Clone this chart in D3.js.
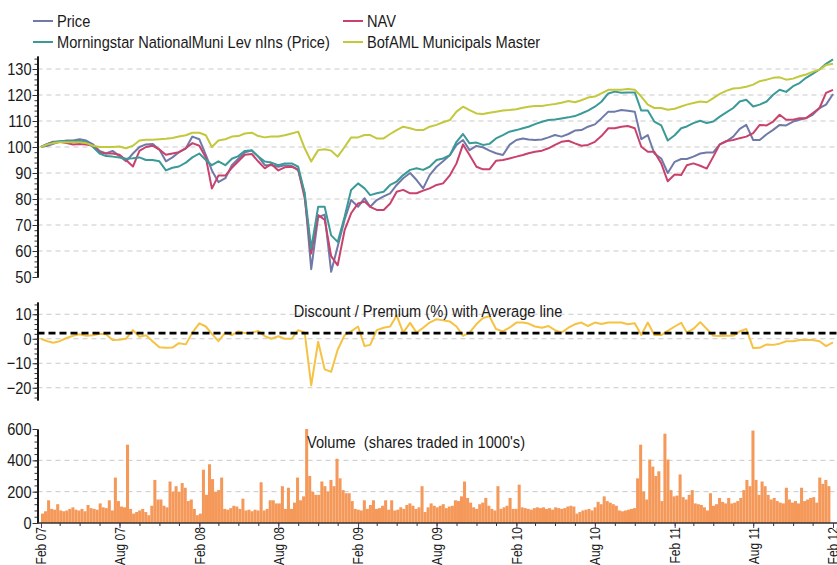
<!DOCTYPE html>
<html><head><meta charset="utf-8">
<script src="https://cdn.jsdelivr.net/npm/d3@7/dist/d3.min.js"></script>
<style>
body{margin:0;background:#fff;}
svg text{font-family:"Liberation Sans",Arial,sans-serif;fill:#1a1a1a;}
</style></head><body>
<svg id="c" width="837" height="565"></svg>
<script>
// ---------- DATA ----------
const seriesNames = ["Price","NAV","Morningstar NationalMuni Lev nIns (Price)","BofAML Municipals Master"];
const seriesColors = ["#6f7aa8","#c8426c","#3b9a98","#c3c83c"];

// semi-monthly observations, Feb 2007 .. Feb 2012 (1st and 16th of each month)
const price = [100,100.5,101.2,102,102.5,102.5,103,102.5,101,98.5, 97.5,98.5,96.5,94.5,97.5,100,101,101.2,99,94.5,
 96,98,99.5,104,103,97,91,86.5,88,93, 95.5,98,98.6,96.3,93,93,92.4,93,92.7,91,
 82,53,73,74,52,61.7,72,79.6,77,80.3, 77,79.6,81,82.2,85.4,88,90,87.3,84.1,89.2,
 92.4,94.5,96.9,100.8,102.7,98.8,100.4,99.9,98.6,97.6, 96.9,100.8,102.7,103.3,102.9,102.7,102.9,103.7,104.6,104,
 105,106.3,106.5,107.8,108.7,111,113.6,113.6,114.2,113.9, 113.6,103,104.6,97.5,95.6,90,94.3,95.4,95.4,96.3,
 97.5,97.9,97.9,101,102.3,104,107,108.5,102.7,102.7, 104.9,106.6,108.5,108.3,109.8,110.5,111.1,112.4,115,116.3,
 120.4];
const nav = [100,101.2,102,102,101.5,101,101.2,101,100.5,98, 97.5,97.5,97,95,92.5,98.5,100,100.5,99,97,
 97.5,98,99.5,101.5,100.5,96,84,89,89,92, 94.5,97,97.3,94.4,91.8,93.5,91,92.2,92.4,91.4,
 80.3,59,73.8,72,58,54.5,68,74.5,78.3,79, 77,75.8,75.8,78.3,82.8,83.5,82.2,82.2,83.2,84.1,
 85.4,86,89.2,93.7,101,96.9,92.4,91.4,91.4,94.7, 95,95.6,96.3,96.9,97.6,98.2,98.6,99.5,100.8,102,
 102.4,101.4,100.5,100.8,102,104.2,107.2,107.2,107.8,108.1, 107.2,100.1,98.2,98.2,93.7,86.8,89.4,89.2,93,93.7,
 92.8,91.7,96.3,101,102.3,102.7,103.4,104,105.3,108.5, 108.3,109.8,112.4,110.5,110.5,111.1,111.1,113,115,120.8,
 122];
const morningstar = [100,101.2,101.8,102.2,102.3,102.3,102.3,102,100,97.5, 96.5,96.3,96,95.5,95.7,96,95,95,94.5,91,
 92,92.5,94,96,97.5,95,93,94.5,93,95.5, 96.5,98.5,98.8,96.3,94.4,94,93,93.7,93.7,92.4,
 82.2,61,77,77,66,63.5,73.2,83.5,86,84.1, 81.5,82.2,82.8,85.4,86.7,89.2,91.2,91.8,91.2,92.4,
 95,95.6,96.9,102,105,101.4,101.7,100.8,101.2,103.3, 104.6,105.9,106.5,107.2,107.8,108.8,109.7,110.4,110.6,111,
 111.4,111.9,112.9,114,115.5,117.4,120.6,121.3,120.9,121, 121,114,114,109.8,108.3,102.5,104.5,107.2,107.9,109.2,
 110.1,109.2,109.8,111.7,113.4,115,117.5,118.2,115.6,116.3, 117.5,120.1,122,121.2,123.4,124.6,126.6,128.1,129.8,132,
 133.7];
const bofaml = [100,101,101.5,101.8,101.8,101.8,101.8,101.5,100.5,100, 100,100,100.2,99.5,100.5,102.5,102.8,102.8,103,103.2,
 103.5,104,104.5,105.5,105.5,104.5,100,102.5,103,104, 104.2,105.2,105.5,104.2,103.7,104,104,104.5,105.2,105.9,
 99.5,94.4,98.8,99.1,98.6,96.3,100,103.7,103.7,104.6, 104.6,103.3,103.3,105,106.5,107.8,107.2,106.5,106.5,107.8,
 108.5,109.5,110.4,113.6,115.5,114.2,112.9,112.7,113.2,113.6, 114,114.2,114.5,115.1,115.5,115.8,115.8,116.2,116.5,117,
 117.7,117.2,118,119,119.4,120.6,122,122,122,122.3, 122,119.4,116.3,115,115,114.3,114.7,115.6,116.3,116.9,
 117.5,117.2,118.8,120.4,121.7,122.5,122.7,123.2,124,125.3, 125.9,126.6,126.8,125.9,126.3,127.2,127.9,128.9,129.8,131.5,
 132];
const premium = [0,-1,-1.6,-1,0.3,1.2,1.8,1.2,1.4,2, 1.8,-0.5,-0.4,0,3.5,0.8,1.4,-1,-3.5,-3.7,
 -3.6,-1.8,-2.3,2.5,6.3,5,2,-1,2.5,1.5, 3,2.3,2.5,3.2,1,0,1,0,0,3.5,
 2.5,-19,-1.2,-12.5,-13.5,-4.5,1.5,3,5,-3, -2.5,3.5,4.5,5,9.5,2.5,6.5,2.5,4.5,6.6,
 8,7.5,7,5,1.2,2.5,6,8.5,9.2,4, 3,4.5,6.6,6.6,6.2,5,4.5,5.2,3.5,2.5,
 4.5,5.9,6.6,5.2,6.6,6,6.6,6.6,6.6,5.9, 6.3,1.5,6.6,1.5,1.5,3.2,5,6.5,2.5,4,
 6.8,4,1.2,1.1,1.2,1.2,3,4,-3.8,-3.7, -2.3,-2.5,-2,-1,-1,-0.5,-0.5,-0.5,-1,-3,
 -1.5];
const premiumAverage = 2.3;

// weekly volume (1000's of shares), from week of 1 Feb 2007
const volume = [
 60,75,145,90,85,120,80,75,80,90,100,85,80,90,75,115,95,90,85,125,100,95,145,80,290,140,
 105,100,500,90,60,70,80,90,70,50,110,275,150,150,110,100,265,200,235,200,255,225,140,150,90,50,
 60,340,180,375,280,200,210,290,90,85,95,110,105,90,155,80,85,75,85,80,260,80,90,145,145,125,
 125,235,90,225,90,130,290,145,170,600,300,200,180,180,265,235,200,275,235,410,285,210,190,190,140,90,
 85,80,145,90,115,145,90,95,110,145,85,145,80,85,100,90,115,125,110,90,100,235,70,100,125,110,
 100,110,120,95,105,110,145,140,170,265,160,130,100,90,120,130,160,110,90,80,235,90,100,110,160,90,
 90,245,100,95,90,85,95,100,95,100,90,95,85,100,95,90,95,105,110,105,60,70,80,85,90,80,
 100,135,120,170,140,130,120,110,80,75,80,85,90,95,285,500,200,150,405,360,300,330,140,570,405,210,
 170,175,310,165,150,180,210,125,120,115,100,80,190,110,120,160,135,125,160,125,130,140,160,210,275,235,
 590,275,180,265,235,180,150,160,140,130,125,225,150,130,140,125,225,140,150,160,165,130,290,250,275,235];

const topTicks = [50,60,70,80,90,100,110,120,130];
const midTicks = [-20,-10,0,10];
const volTicks = [0,200,400,600];
const monthNames = ["Jan","Feb","Mar","Apr","May","Jun","Jul","Aug","Sep","Oct","Nov","Dec"];

// ---------- DATES ----------
const obsDates = price.map((_, i) => new Date(2007, 1 + Math.floor(i / 2), i % 2 ? 16 : 1));
const volDates = volume.map((_, i) => new Date(2007, 1, 1 + 7 * i));
const majorDates = d3.range(0, 11).map(i => new Date(2007, 1 + 6 * i, 1));
const minorDates = d3.range(0, 41).map(i => { const m = i * 1.5; return new Date(2007, 1 + Math.floor(m), (m % 1) ? 16 : 1); });

// ---------- LAYOUT ----------
const svg = d3.select("#c");
const L = 37.5, R = 837;
const SX = 0.86;           // horizontal condensing of the narrow type
const FS = 17;
const x = d3.scaleTime().domain([new Date(2007,1,1), new Date(2012,1,1)]).range([41, 833]);
const yTop = d3.scaleLinear().domain([50,135]).range([277,56]);
const yMid = d3.scaleLinear().domain([-25,15]).range([400,302]);
const yVol = d3.scaleLinear().domain([0,600]).range([523,429]);

function label(px, py, str, anchor, size) {
  return svg.append("text").attr("transform", `translate(${px},${py}) scale(${SX},1)`)
    .attr("text-anchor", anchor || "start").style("font-size", (size || FS) + "px")
    .style("white-space", "pre").text(str);
}
function grid(scale, vals) {
  svg.append("g").selectAll("line").data(vals).join("line")
    .attr("x1", L).attr("x2", R).attr("y1", d => scale(d)).attr("y2", d => scale(d))
    .attr("stroke", "#c9c9c9").attr("stroke-width", 1).attr("stroke-dasharray", "5,4");
}
function yAxis(scale, major, minorStep) {
  const d = scale.domain();
  const g = svg.append("g").attr("transform", `translate(${L},0)`);
  g.call(d3.axisLeft(scale).tickValues(d3.range(Math.ceil(d[0]/minorStep)*minorStep, d[1]+0.001, minorStep)).tickSize(3).tickSizeOuter(0).tickFormat(""));
  const g2 = svg.append("g").attr("transform", `translate(${L},0)`);
  g2.call(d3.axisLeft(scale).tickValues(major).tickSize(5).tickPadding(1).tickSizeOuter(0));
  [g, g2].forEach(a => {
    a.selectAll("path").attr("stroke", "#111").attr("stroke-width", 1.6);
    a.selectAll("line").attr("stroke", "#333");
  });
  g2.selectAll("text").style("font-size", FS + "px").style("font-family", null).attr("fill", "#1a1a1a")
    .attr("x", -6 / SX).attr("transform", `scale(${SX},1)`);
}

// ---------- TOP PANEL ----------
grid(yTop, topTicks.filter(v => v > 50));
yAxis(yTop, topTicks, 2);
const series = [price, nav, morningstar, bofaml];
const line = d3.line().x(d => x(d[0])).y(d => yTop(d[1]));
series.forEach((s, i) => {
  svg.append("path").datum(s.map((v, j) => [obsDates[j], v]))
    .attr("d", line).attr("fill", "none").attr("stroke", seriesColors[i])
    .attr("stroke-width", 2).attr("stroke-linejoin", "round");
});

// legend
const legPos = [[33,21],[343,21],[33,42],[343,42]];
seriesNames.forEach((n, i) => {
  const [lx, ly] = legPos[i];
  svg.append("line").attr("x1", lx).attr("x2", lx + 20).attr("y1", ly).attr("y2", ly)
    .attr("stroke", seriesColors[i]).attr("stroke-width", 2);
  label(lx + 24, ly + 6, n);
});

// ---------- MIDDLE PANEL ----------
grid(yMid, midTicks);
yAxis(yMid, midTicks, 2);
svg.append("path").datum(premium.map((v, j) => [obsDates[j], v]))
  .attr("d", d3.line().x(d => x(d[0])).y(d => yMid(d[1])))
  .attr("fill", "none").attr("stroke", "#f6c244").attr("stroke-width", 2).attr("stroke-linejoin", "round");
svg.append("line").attr("x1", L).attr("x2", R).attr("y1", yMid(premiumAverage)).attr("y2", yMid(premiumAverage))
  .attr("stroke", "#000").attr("stroke-width", 2.6).attr("stroke-dasharray", "7,4");
label(428, 317, "Discount / Premium (%) with Average line", "middle");

// ---------- BOTTOM PANEL ----------
grid(yVol, [200, 400]);
svg.append("g").selectAll("rect").data(volume).join("rect")
  .attr("x", (d, i) => x(volDates[i]))
  .attr("width", (d, i) => x(d3.timeDay.offset(volDates[i], 7)) - x(volDates[i]))
  .attr("y", d => yVol(d)).attr("height", d => yVol(0) - yVol(d))
  .attr("fill", "#f5995a");
yAxis(yVol, volTicks, 40);
label(416, 448, "Volume  (shares traded in 1000's)", "middle");

// x axis
const xa = svg.append("g").attr("transform", "translate(0,523)");
xa.call(d3.axisBottom(x).tickValues(minorDates).tickSize(3).tickFormat(""));
const xb = svg.append("g").attr("transform", "translate(0,523)");
xb.call(d3.axisBottom(x).tickValues(majorDates).tickSize(5)
  .tickFormat(d => monthNames[d.getMonth()] + " " + String(d.getFullYear() % 100).padStart(2, "0")));
[xa, xb].forEach(a => { a.select("path").remove(); a.selectAll("line").attr("stroke", "#333"); });
xb.selectAll("line").attr("stroke", "#5b3c70");
xb.selectAll("text").style("font-size", "14px").style("font-family", null).attr("fill", "#1a1a1a")
  .attr("transform", `rotate(-90) scale(${SX},1)`).attr("text-anchor", "end")
  .attr("x", -4 / SX).attr("y", 0).attr("dy", "0.35em");
svg.append("line").attr("x1", L).attr("x2", R).attr("y1", 523).attr("y2", 523)
  .attr("stroke", "#333").attr("stroke-width", 1.6);
</script>
</body></html>
